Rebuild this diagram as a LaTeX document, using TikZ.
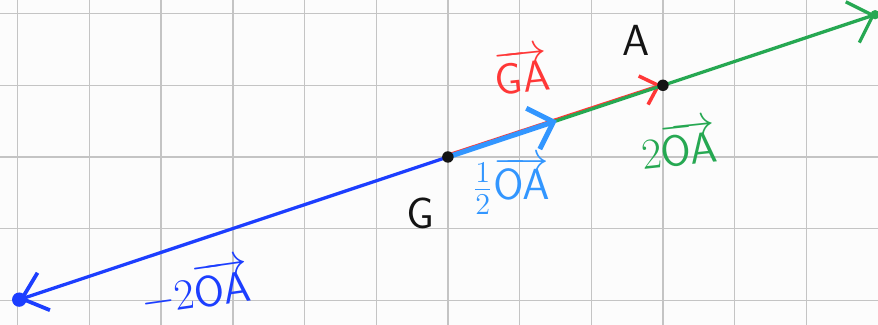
\documentclass[tikz,border=0pt]{standalone}
\usetikzlibrary{arrows.meta}
\definecolor{gridgray}{RGB}{196,196,196}
\definecolor{bgwhite}{RGB}{252,252,252}
\definecolor{penred}{RGB}{255,55,55}
\definecolor{pengreen}{RGB}{38,168,82}
\definecolor{penlblue}{RGB}{50,150,255}
\definecolor{pendblue}{RGB}{28,62,255}
\definecolor{penblack}{RGB}{20,20,20}
\tikzset{
  vec/.style={line cap=round},
  gridline/.style={gridgray,line width=0.55pt},
  dotmark/.style={circle,fill=penblack,inner sep=0pt,minimum size=1.6mm},
  lbl/.style={font=\LARGE,inner sep=1pt},
}
\begin{document}
\begin{tikzpicture}
\useasboundingbox (-6.248,-2.343) rectangle (6.0,2.19);
\fill[bgwhite] (-6.248,-2.343) rectangle (6.0,2.19);
\foreach \x in {-6,...,5} \draw[gridline] (\x,-2.343) -- (\x,2.19);
\foreach \y in {-2,...,2} \draw[gridline] (-6.248,\y) -- (6.0,\y);

\coordinate (G) at (0,0);
\coordinate (A) at (3,1);
\coordinate (E) at (5.96,1.985);
\coordinate (M) at (-5.98,-1.99);
\coordinate (H) at (1.52,0.505);

% red GA (slightly above the others)
\draw[penred,line width=0.8pt,vec,
  -{Straight Barb[length=2.2mm,width=4.2mm,line width=1.4pt]}]
  ([yshift=0.35mm]G) -- ([xshift=-0.3mm,yshift=0.1mm]A);
% green 2OA
\draw[pengreen,line width=1.3pt,vec,
  -{Straight Barb[length=3mm,width=6mm,line width=1.3pt]}] (G) -- (E);
% dark blue -2OA
\draw[pendblue,line width=1.3pt,vec,
  -{Straight Barb[length=3.2mm,width=5.5mm,line width=1.5pt]}] (G) -- (M);
% light blue 1/2 OA
\draw[penlblue,line width=2pt,vec,
  -{Straight Barb[length=3mm,width=6mm,line width=2pt]}] (G) -- (H);

\node[dotmark] (Gd) at (G) {};
\node[dotmark] (Ad) at (A) {};
\node[circle,fill=pendblue,inner sep=0pt,minimum size=2mm] (Md) at (M) {};
\node[circle,fill=pengreen,inner sep=0pt,minimum size=1.3mm] (Ed) at (E) {};

\node[lbl,text=penblack] (Gl) at (-0.39,-0.78) {$\mathsf{G}$};
\node[lbl,text=penblack] (Al) at (2.62,1.62) {$\mathsf{A}$};
\node[lbl,text=penred,rotate=6] (GAl) at (1.03,1.2) {$\overrightarrow{\mathsf{GA}}$};
\node[lbl,text=penlblue] (Hl) at (0.88,-0.4) {$\frac{1}{2}\overrightarrow{\mathsf{OA}}$};
\node[lbl,text=pengreen,rotate=6] (El) at (3.22,0.18) {$2\overrightarrow{\mathsf{OA}}$};
\node[lbl,text=pendblue,rotate=8] (Ml) at (-3.53,-1.83) {$-2\overrightarrow{\mathsf{OA}}$};
\end{tikzpicture}
\end{document}
